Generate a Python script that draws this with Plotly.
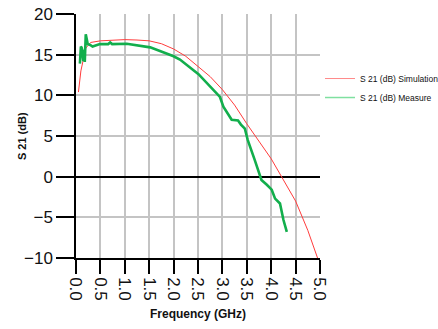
import plotly.graph_objects as go

sim_f = [0.05, 0.1, 0.2, 0.3, 0.5, 0.75, 1.0, 1.25, 1.5, 1.75, 2.0, 2.25, 2.5, 2.75,
         3.0, 3.25, 3.5, 3.75, 4.0, 4.25, 4.5, 4.75, 4.95]
sim_db = [10.4, 13.0, 15.8, 16.5, 16.7, 16.8, 16.85, 16.8, 16.7, 16.35, 15.7, 14.8, 13.6, 12.3,
          10.7, 8.8, 6.5, 4.3, 2.2, -0.4, -3.0, -6.6, -10.0]

meas_f = [0.08, 0.1, 0.12, 0.15, 0.18, 0.18, 0.2, 0.24, 0.29, 0.34, 0.49, 0.66, 0.7, 0.74,
          1.04, 1.52, 2.0, 2.13, 2.51, 2.75, 2.95, 3.02, 3.19, 3.32, 3.38, 3.46, 3.52, 3.66,
          3.8, 3.91, 4.01, 4.08, 4.18, 4.25, 4.32]
meas_db = [13.9, 16.0, 15.8, 14.2, 15.6, 14.1, 17.5, 16.3, 16.2, 16.0, 16.3, 16.3, 16.5, 16.3,
           16.35, 15.9, 14.8, 14.4, 12.6, 11.1, 9.8, 8.6, 7.0, 6.9, 6.4, 5.9, 4.5, 2.1,
           -0.4, -1.0, -1.6, -2.7, -3.3, -5.3, -6.8]

x_ticks = [0.0, 0.5, 1.0, 1.5, 2.0, 2.5, 3.0, 3.5, 4.0, 4.5, 5.0]
y_ticks = [-10, -5, 0, 5, 10, 15, 20]

RED = "#ff3c3c"
GREEN = "#12ae4c"

fig = go.Figure()
fig.add_trace(go.Scatter(x=sim_f, y=sim_db, mode="lines", line=dict(color=RED, width=1),
                         showlegend=False))
fig.add_trace(go.Scatter(x=meas_f, y=meas_db, mode="lines", line=dict(color=GREEN, width=2.6),
                         showlegend=False))
fig.add_trace(go.Scatter(x=[None], y=[None], mode="lines", line=dict(color="#ff8a8a", width=1),
                         name="S 21 (dB) Simulation"))
fig.add_trace(go.Scatter(x=[None], y=[None], mode="lines", line=dict(color="#7fe0a0", width=1.5),
                         name="S 21 (dB) Measure"))

fig.update_layout(
    width=438, height=329,
    margin=dict(l=76, r=118, t=14, b=71, autoexpand=False),
    paper_bgcolor="white", plot_bgcolor="white",
    font=dict(family="Liberation Sans, Arial, sans-serif", color="#111"),
    legend=dict(x=1.0, y=0.795, xanchor="left", yanchor="top",
                font=dict(size=8.5, color="#111"), tracegroupgap=0,
                itemwidth=30, bgcolor="rgba(0,0,0,0)"),
    xaxis=dict(
        range=[0, 5], tickvals=x_ticks, ticktext=[f"{v:.1f}" for v in x_ticks],
        tickangle=90, tickfont=dict(size=17, color="#111"),
        ticks="outside", ticklen=14, tickcolor="black", tickwidth=1.5,
        showline=True, linecolor="black", linewidth=1.5,
        showgrid=True, gridcolor="#c4c4c4", gridwidth=1.5,
        zeroline=False, mirror=False, automargin=False,
    ),
    yaxis=dict(
        range=[-10, 20], tickvals=y_ticks,
        tickfont=dict(size=17, color="#111"),
        ticks="outside", ticklen=18, tickcolor="black", tickwidth=1.5,
        showline=True, linecolor="black", linewidth=1.5,
        showgrid=True, gridcolor="#c4c4c4", gridwidth=1.5,
        zeroline=True, zerolinecolor="black", zerolinewidth=1.5,
        automargin=False,
    ),
    annotations=[
        dict(text="<b>Frequency (GHz)</b>", xref="paper", yref="paper", x=0.5, y=-0.2295,
             xanchor="center", yanchor="middle", showarrow=False,
             font=dict(size=12, color="#111")),
        dict(text="<b>S 21 (dB)</b>", xref="paper", yref="paper", x=-0.221, y=0.5,
             xanchor="center", yanchor="middle", showarrow=False, textangle=-90,
             font=dict(size=11, color="#111")),
    ],
)

fig.write_html("out.html")
